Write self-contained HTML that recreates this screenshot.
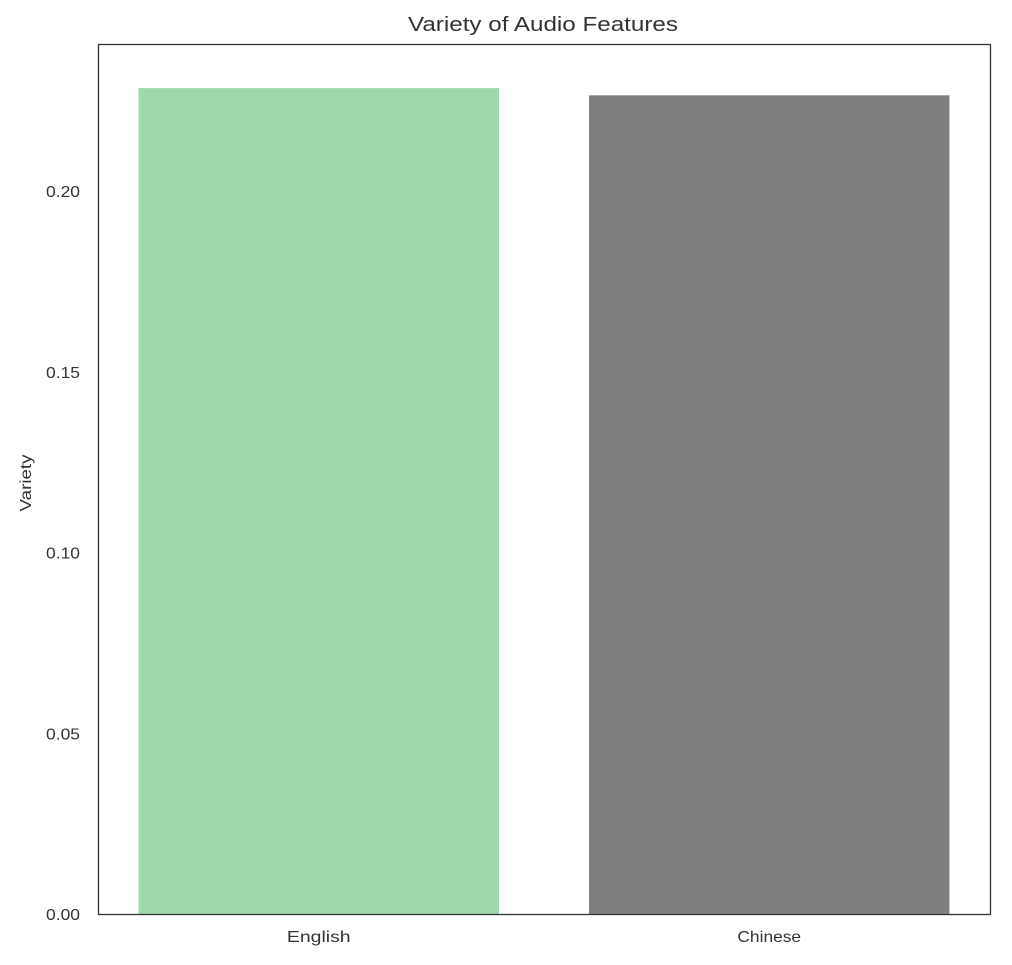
<!DOCTYPE html>
<html><head><meta charset="utf-8"><style>
body{margin:0;background:#fff;font-family:"Liberation Sans",sans-serif}
svg text{font-family:"Liberation Sans",sans-serif;fill:#333}
</style></head><body>
<svg id="chart" width="1012" height="960">
<text x="543" y="31" font-size="20" text-anchor="middle" textLength="270" lengthAdjust="spacingAndGlyphs">Variety of Audio Features</text>
<text transform="translate(31,483) rotate(-90)" font-size="16" text-anchor="middle" textLength="57" lengthAdjust="spacingAndGlyphs">Variety</text>
<g id="bars"></g><g id="yticks"></g><g id="xticks"></g>
<rect x="98.5" y="44.5" width="892" height="870" fill="none" stroke="#333" stroke-width="1.3"/>
</svg>
<script>
const categories=["English","Chinese"];
const values=[0.2285,0.2265];
const colors=["#a0d8ad","#7f7f7f"];
const yTicks=[0,0.05,0.10,0.15,0.20];
const yTickLabels=["0.00","0.05","0.10","0.15","0.20"];
const L=98,R=990,T=44,B=914,yMax=0.2407,xMin=-0.49,xMax=1.49;
const ns="http://www.w3.org/2000/svg";
const y=v=>B-(v/yMax)*(B-T);
const x=i=>L+(i-xMin)/(xMax-xMin)*(R-L);
const bw=0.8*(R-L)/(xMax-xMin);
const bars=document.getElementById('bars'),yt=document.getElementById('yticks'),xt=document.getElementById('xticks');
categories.forEach((c,i)=>{
 const r=document.createElementNS(ns,'rect');
 r.setAttribute('x',x(i)-bw/2);r.setAttribute('width',bw);
 r.setAttribute('y',y(values[i]));r.setAttribute('height',B-y(values[i]));
 r.setAttribute('fill',colors[i]);
 
 
 bars.appendChild(r);
 const t=document.createElementNS(ns,'text');
 t.setAttribute('x',x(i));t.setAttribute('y',942);t.setAttribute('font-size','16');t.setAttribute('text-anchor','middle');
 t.setAttribute('textLength',c.length*9.1);t.setAttribute('lengthAdjust','spacingAndGlyphs');
 t.textContent=c;
 
 
 xt.appendChild(t);
});
yTicks.forEach((v,i)=>{
 const t=document.createElementNS(ns,'text');
 t.setAttribute('x',80);t.setAttribute('y',y(v)+6);t.setAttribute('font-size','16');t.setAttribute('text-anchor','end');
 t.setAttribute('textLength',34);t.setAttribute('lengthAdjust','spacingAndGlyphs');
 t.textContent=yTickLabels[i];
 
 
 yt.appendChild(t);
});
</script>
</body></html>
